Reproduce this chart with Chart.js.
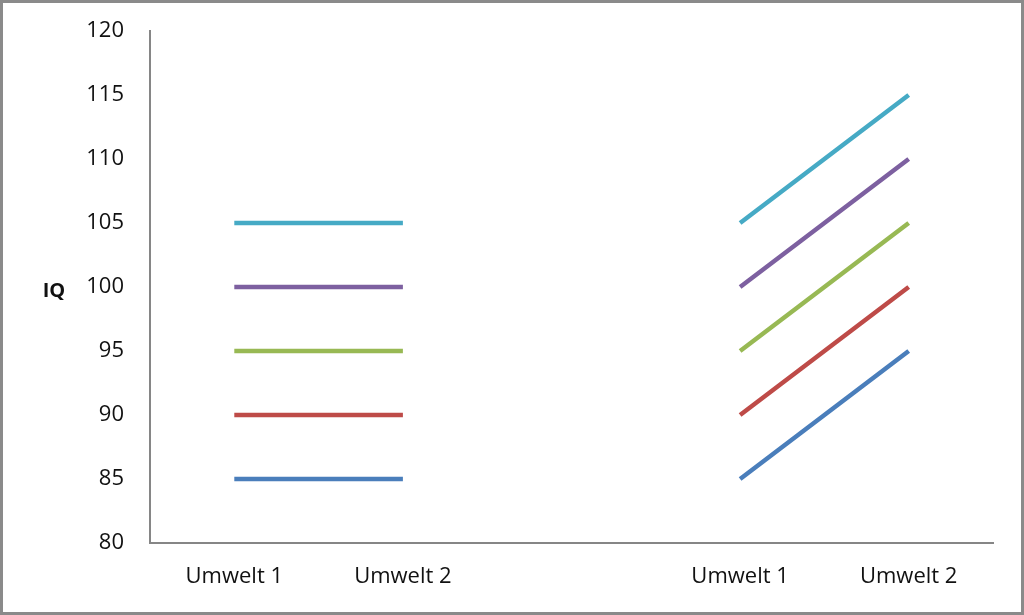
<!DOCTYPE html>
<html>
<head>
<meta charset="utf-8">
<script src="https://cdn.jsdelivr.net/npm/chart.js@4"></script>
<style>
  html, body { margin: 0; padding: 0; background: #fff; }
  #frame { width: 1024px; height: 615px; box-sizing: border-box; border: 3px solid #8a8a8a; background: #fff; }
  #chart { display: block; }
</style>
</head>
<body>
<div id="frame"><canvas id="chart" width="1018" height="609"></canvas></div>
<script>
// Categories and IQ values per line
const categories = ['Umwelt 1', 'Umwelt 2', '', 'Umwelt 1', 'Umwelt 2'];
const line1 = [85, 85, null, 85, 95];
const line2 = [90, 90, null, 90, 100];
const line3 = [95, 95, null, 95, 105];
const line4 = [100, 100, null, 100, 110];
const line5 = [105, 105, null, 105, 115];
const colors = ['#4a7ebb', '#be4b48', '#98b954', '#7d60a0', '#46aac5'];
const yTitle = 'IQ';

const font = { family: 'Open Sans', size: 22 };

// draws the horizontal "IQ" label left of the y axis
const axisLabel = {
    id: 'axisLabel',
    afterDraw(chart) {
        const c = chart.ctx;
        const area = chart.chartArea;
        c.save();
        c.font = 'bold 20px "Open Sans"';
        c.fillStyle = '#111';
        c.textAlign = 'center';
        c.textBaseline = 'middle';
        c.fillText(yTitle, 51, (area.top + area.bottom) / 2 + 4);
        c.restore();
    }
};

const series = [line1, line2, line3, line4, line5];

new Chart(document.getElementById('chart'), {
    type: 'line',
    data: {
        labels: categories,
        datasets: series.map((d, i) => ({
            data: d,
            borderColor: colors[i],
            backgroundColor: colors[i],
            borderWidth: 4.5,
            pointRadius: 0,
            spanGaps: false,
            fill: false
        }))
    },
    options: {
        responsive: false,
        animation: false,
        layout: { padding: { top: 28, right: 28 } },
        plugins: {
            legend: { display: false },
            tooltip: { enabled: false }
        },
        scales: {
            x: {
                offset: true,
                grid: { display: false, drawTicks: false },
                border: { display: true, color: '#868686', width: 2 },
                ticks: { color: '#111', font: font, padding: 21, maxRotation: 0, autoSkip: false },
                afterFit: s => { s.height = 69; s.paddingLeft = 0; s.paddingRight = 0; }
            },
            y: {
                min: 80,
                max: 120,
                grid: { display: false, drawTicks: false },
                border: { display: true, color: '#868686', width: 2 },
                ticks: { stepSize: 5, color: '#111', font: font, padding: 26 },
                afterFit: s => { s.width = 147; s.paddingTop = 0; s.paddingBottom = 0; }
            }
        }
    },
    plugins: [axisLabel]
});
</script>
</body>
</html>
